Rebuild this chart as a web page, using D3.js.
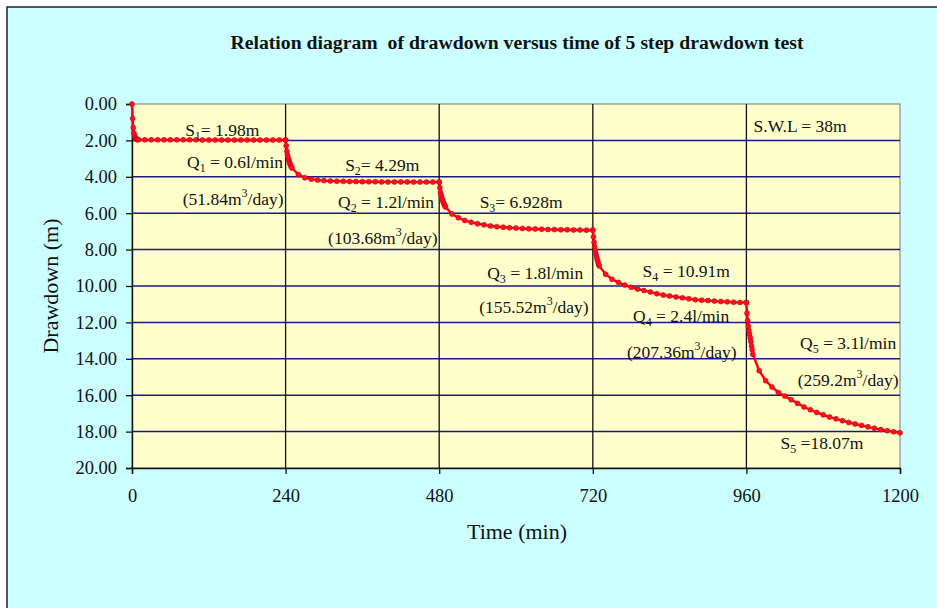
<!DOCTYPE html>
<html>
<head>
<meta charset="utf-8">
<script src="https://cdn.jsdelivr.net/npm/d3@7"></script>
<style>
  body { margin: 0; background: #fff; }
  text { font-family: "Liberation Serif", "Times New Roman", serif; fill: #111; white-space: pre; }
</style>
</head>
<body>
<div id="chart"></div>
<script>
// minutes since the start of each pumping step
const stepTimes = [0, 1, 2, 3, 4, 5, 6, 7, 8, 9, 10, 20, 30, 40, 50, 60, 70, 80, 90, 100,
  110, 120, 130, 140, 150, 160, 170, 180, 190, 200, 210, 220, 230, 240];
const stepStart = [0, 240, 480, 720, 960];

// drawdown (m), one array per step
const step1 = [0.00, 0.80, 1.30, 1.60, 1.75, 1.85, 1.90, 1.93, 1.95, 1.96, 1.96, 1.97, 1.97, 1.97, 1.97, 1.97, 1.97,
  1.97, 1.97, 1.97, 1.98, 1.98, 1.98, 1.98, 1.98, 1.98, 1.98, 1.98, 1.98, 1.98, 1.98, 1.98, 1.98, 1.98];
const step2 = [1.98, 2.30, 2.60, 2.80, 2.95, 3.08, 3.20, 3.30, 3.38, 3.45, 3.52, 3.88, 4.05, 4.13, 4.18, 4.21, 4.23,
  4.24, 4.25, 4.26, 4.26, 4.27, 4.27, 4.27, 4.28, 4.28, 4.28, 4.28, 4.28, 4.29, 4.29, 4.29, 4.29, 4.29];
const step3 = [4.29, 4.60, 4.85, 5.00, 5.15, 5.25, 5.35, 5.45, 5.52, 5.60, 5.66, 6.05, 6.25, 6.40, 6.50, 6.58, 6.64,
  6.70, 6.74, 6.77, 6.80, 6.82, 6.84, 6.86, 6.87, 6.88, 6.89, 6.90, 6.91, 6.91, 6.92, 6.92, 6.93, 6.928];
const step4 = [6.93, 7.30, 7.60, 7.85, 8.05, 8.25, 8.40, 8.55, 8.68, 8.80, 8.90, 9.35, 9.63, 9.80, 9.95, 10.07, 10.17,
  10.25, 10.33, 10.42, 10.50, 10.55, 10.60, 10.65, 10.70, 10.75, 10.78, 10.80, 10.83, 10.85, 10.87, 10.89, 10.90, 10.91];
const step5 = [10.91, 11.50, 11.90, 12.20, 12.45, 12.65, 12.85, 13.05, 13.30, 13.50, 13.75, 14.65, 15.20, 15.55, 15.85,
  16.05, 16.25, 16.45, 16.65, 16.80, 16.95, 17.08, 17.20, 17.30, 17.40, 17.50, 17.58, 17.66, 17.74, 17.82, 17.89,
  17.95, 18.01, 18.07];

const xTicks = [0, 240, 480, 720, 960, 1200];
const yTicks = [0, 2, 4, 6, 8, 10, 12, 14, 16, 18, 20];

const W = 937, H = 608;

let svg = d3.select("#chart").append("svg")
    .attr("width", W)
    .attr("height", H);

// outer frame
svg.append("rect")
    .attr("x", 7).attr("y", 7)
    .attr("width", W + 10).attr("height", H + 10)
    .attr("fill", "#ccffff")
    .attr("stroke", "#222")
    .attr("stroke-width", 1.5);

let x = d3.scaleLinear().domain([0, 1200]).range([132, 900]);
let y = d3.scaleLinear().domain([0, 20]).range([104, 468]);

// plot area
svg.append("rect")
    .attr("x", x(0)).attr("y", y(0))
    .attr("width", x(1200) - x(0)).attr("height", y(20) - y(0))
    .attr("fill", "#ffffcc")
    .attr("stroke", "#8a8a8a")
    .attr("stroke-width", 1.2);

// horizontal grid
svg.append("g").selectAll("line")
    .data(yTicks.filter(d => d > 0 && d < 20))
    .enter().append("line")
    .attr("x1", x(0)).attr("x2", x(1200))
    .attr("y1", d => y(d)).attr("y2", d => y(d))
    .attr("stroke", "#1a1a80")
    .attr("stroke-width", 1.5);

// vertical grid
svg.append("g").selectAll("line")
    .data(xTicks.filter(d => d > 0 && d < 1200))
    .enter().append("line")
    .attr("x1", d => x(d)).attr("x2", d => x(d))
    .attr("y1", y(0)).attr("y2", y(20))
    .attr("stroke", "#111")
    .attr("stroke-width", 1.3);

// axes
let xAxis = svg.append("g")
    .attr("transform", "translate(0," + y(20) + ")")
    .call(d3.axisBottom(x).tickValues(xTicks).tickSize(6).tickPadding(15).tickFormat(d3.format("d")));
let yAxis = svg.append("g")
    .attr("transform", "translate(" + x(0) + ",0)")
    .call(d3.axisLeft(y).tickValues(yTicks).tickSize(6).tickPadding(9).tickFormat(d3.format(".2f")));

[xAxis, yAxis].forEach(a => {
    a.select(".domain").attr("stroke", "#111").attr("stroke-width", 1.4);
    a.selectAll(".tick line").attr("stroke", "#111").attr("stroke-width", 1.3);
    a.selectAll(".tick text")
        .style("font-family", "'Liberation Serif', serif")
        .style("font-size", "18.5px")
        .attr("fill", "#111");
});

// drawdown curve
let points = [];
[step1, step2, step3, step4, step5].forEach((s, i) => {
    s.forEach((v, j) => points.push({ t: stepStart[i] + stepTimes[j], s: v }));
});

svg.append("path")
    .datum(points)
    .attr("fill", "none")
    .attr("stroke", "#ff0000")
    .attr("stroke-width", 2.4)
    .attr("d", d3.line().x(d => x(d.t)).y(d => y(d.s)));

svg.append("g").selectAll("circle")
    .data(points)
    .enter().append("circle")
    .attr("cx", d => x(d.t))
    .attr("cy", d => y(d.s))
    .attr("r", 2.5)
    .attr("fill", "#ff1020")
    .attr("stroke", "#d00010")
    .attr("stroke-width", 0.6);

// title
svg.append("text")
    .attr("x", 517).attr("y", 49)
    .attr("text-anchor", "middle")
    .attr("font-weight", "bold")
    .attr("font-size", 18)
    .attr("textLength", 573)
    .attr("lengthAdjust", "spacingAndGlyphs")
    .text("Relation diagram  of drawdown versus time of 5 step drawdown test");

// axis titles
svg.append("text")
    .attr("x", 517).attr("y", 539)
    .attr("text-anchor", "middle")
    .attr("font-size", 22)
    .text("Time (min)");

svg.append("text")
    .attr("transform", "translate(58,286) rotate(-90)")
    .attr("text-anchor", "middle")
    .attr("font-size", 22)
    .text("Drawdown (m)");

// annotations: [time, drawdown, parts]
function label(t, s, parts) {
    let txt = svg.append("text")
        .attr("x", x(t)).attr("y", y(s))
        .attr("text-anchor", "middle")
        .attr("font-size", 17.5);
    let shift = 0;
    parts.forEach(p => {
        let target = p[1] === "sub" ? 4 : p[1] === "sup" ? -8 : 0;
        let dy = target - shift;
        shift = target;
        txt.append("tspan")
            .attr("dy", dy)
            .attr("font-size", p[1] === "n" ? 17.5 : 12)
            .text(p[0]);
    });
}

label(141, 1.76, [["S", "n"], ["1", "sub"], ["= 1.98m", "n"]]);
label(161, 3.52, [["Q", "n"], ["1", "sub"], [" = 0.6l/min", "n"]]);
label(158, 5.55, [["(51.84m", "n"], ["3", "sup"], ["/day)", "n"]]);
label(391, 3.68, [["S", "n"], ["2", "sub"], ["= 4.29m", "n"]]);
label(397, 5.71, [["Q", "n"], ["2", "sub"], [" = 1.2l/min", "n"]]);
label(392, 7.69, [["(103.68m", "n"], ["3", "sup"], ["/day)", "n"]]);
label(608, 5.71, [["S", "n"], ["3", "sub"], ["= 6.928m", "n"]]);
label(630, 9.62, [["Q", "n"], ["3", "sub"], [" = 1.8l/min", "n"]]);
label(628, 11.48, [["(155.52m", "n"], ["3", "sup"], ["/day)", "n"]]);
label(866, 9.51, [["S", "n"], ["4", "sub"], [" = 10.91m", "n"]]);
label(858, 11.98, [["Q", "n"], ["4", "sub"], [" = 2.4l/min", "n"]]);
label(859, 13.96, [["(207.36m", "n"], ["3", "sup"], ["/day)", "n"]]);
label(1044, 1.54, [["S.W.L = 38m", "n"]]);
label(1119, 13.46, [["Q", "n"], ["5", "sub"], [" = 3.1l/min", "n"]]);
label(1119, 15.49, [["(259.2m", "n"], ["3", "sup"], ["/day)", "n"]]);
label(1078, 18.96, [["S", "n"], ["5", "sub"], [" =18.07m", "n"]]);
</script>
</body>
</html>
